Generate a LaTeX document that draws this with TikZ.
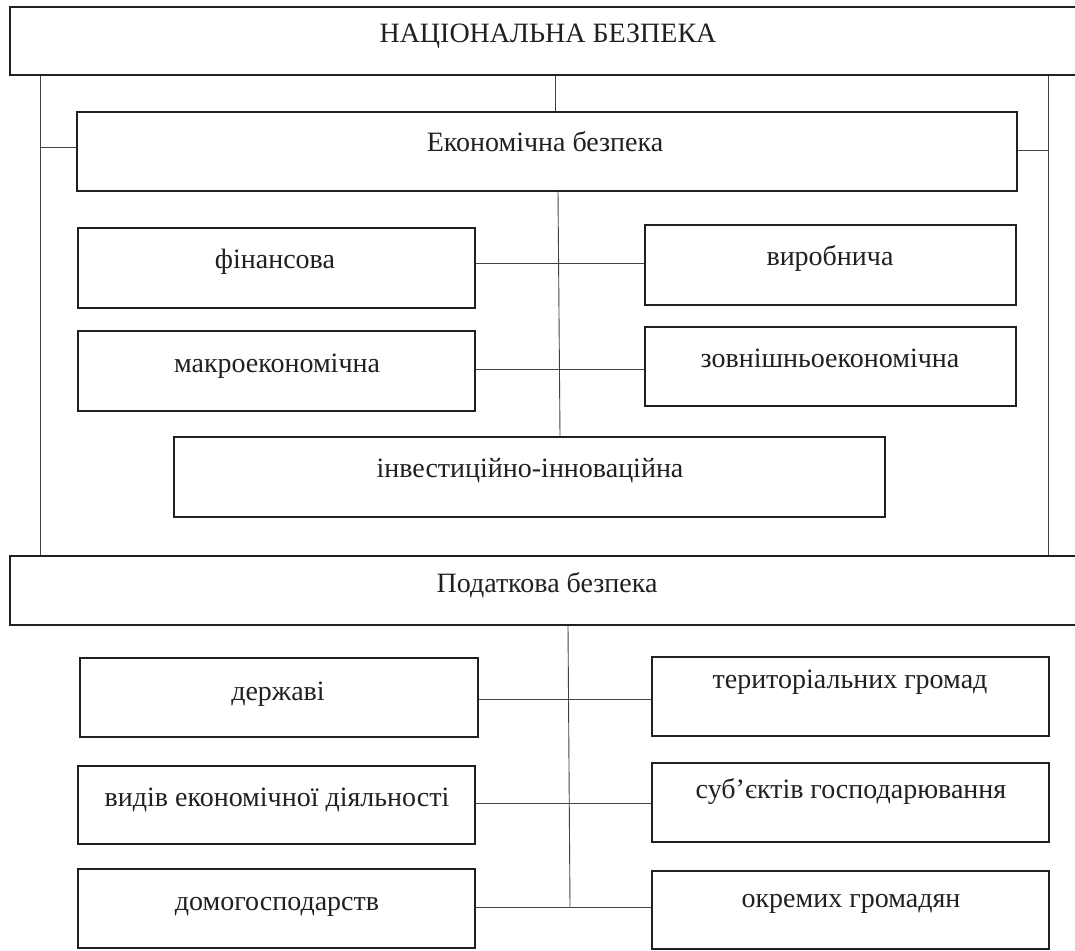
\documentclass[tikz,border=0pt]{standalone}
\usepackage{fontspec}
\setmainfont{Liberation Serif}
\definecolor{ink}{HTML}{231F20}
\tikzset{
  box/.style={draw=ink, line width=1.8pt, rectangle, inner sep=0pt, fill=white},
  txt/.style={text=ink, inner sep=0pt, anchor=base, font=\fontsize{28}{33}\selectfont},
  conn/.style={draw=ink!85, line width=0.9pt}
}
\begin{document}
\begin{tikzpicture}[x=1pt,y=-1pt]
\useasboundingbox (0,0) rectangle (1075,950);
\clip (0,0) rectangle (1075,950);
% boxes
\node[box, minimum width=1080pt, minimum height=68pt] (nat) at (550,41) {};
\node[box, minimum width=940pt, minimum height=79pt] (econ) at (547,151.5) {};
\node[box, minimum width=397pt, minimum height=80pt] (fin) at (276.5,268) {};
\node[box, minimum width=371pt, minimum height=80pt] (vyr) at (830.5,265) {};
\node[box, minimum width=397pt, minimum height=80pt] (makro) at (276.5,371) {};
\node[box, minimum width=371pt, minimum height=79pt] (zovn) at (830.5,366.5) {};
\node[box, minimum width=711pt, minimum height=80pt] (inv) at (529.5,477) {};
\node[box, minimum width=1080pt, minimum height=69pt] (tax) at (550,590.5) {};
\node[box, minimum width=398pt, minimum height=79pt] (derzh) at (279,697.5) {};
\node[box, minimum width=397pt, minimum height=79pt] (ter) at (850.5,696.5) {};
\node[box, minimum width=397pt, minimum height=78pt] (vyd) at (276.5,805) {};
\node[box, minimum width=397pt, minimum height=79pt] (sub) at (850.5,802.5) {};
\node[box, minimum width=397pt, minimum height=79pt] (dom) at (276.5,908.5) {};
\node[box, minimum width=397pt, minimum height=78pt] (okr) at (850.5,910) {};
% texts
\node[txt] (natT) at (548,43) {НАЦІОНАЛЬНА БЕЗПЕКА};
\node[txt] (econT) at (545,151) {Економічна безпека};
\node[txt] (finT) at (275,268) {фінансова};
\node[txt] (vyrT) at (830,265) {виробнича};
\node[txt] (makroT) at (277,372) {макроекономічна};
\node[txt] (zovnT) at (830,367) {зовнішньоекономічна};
\node[txt] (invT) at (530,477) {інвестиційно-інноваційна};
\node[txt] (taxT) at (547,592) {Податкова безпека};
\node[txt] (derzhT) at (278,700) {державі};
\node[txt] (terT) at (850,688) {територіальних громад};
\node[txt] (vydT) at (277,806) {видів економічної діяльності};
\node[txt] (subT) at (851,798) {суб’єктів господарювання};
\node[txt] (domT) at (277,910) {домогосподарств};
\node[txt] (okrT) at (851,907) {окремих громадян};
% spine coordinates
\coordinate (lx) at (40,0);
\coordinate (rx) at (1048,0);
\coordinate (e1) at (559,263);
\coordinate (e2) at (559,369);
\coordinate (t1) at (569,699);
\coordinate (t2) at (569,803);
\coordinate (t3) at (570,907);
\coordinate (lh) at (0,147);
\coordinate (rh) at (0,150);
% connectors
\draw[conn] (nat.south -| 555,0) -- (econ.north -| 555,0);
\draw[conn] (nat.south -| lx) -- (tax.north -| lx);
\draw[conn] (nat.south -| rx) -- (tax.north -| rx);
\draw[conn] (lx |- lh) -- (econ.west |- lh);
\draw[conn] (econ.east |- rh) -- (rx |- rh);
\draw[conn] (econ.south -| 558,0) -- (inv.north -| 560,0);
\draw[conn] (fin.east |- e1) -- (vyr.west |- e1);
\draw[conn] (makro.east |- e2) -- (zovn.west |- e2);
\draw[conn] (tax.south -| 568,0) -- (t3);
\draw[conn] (derzh.east |- t1) -- (ter.west |- t1);
\draw[conn] (vyd.east |- t2) -- (sub.west |- t2);
\draw[conn] (dom.east |- t3) -- (okr.west |- t3);
\end{tikzpicture}
\end{document}
